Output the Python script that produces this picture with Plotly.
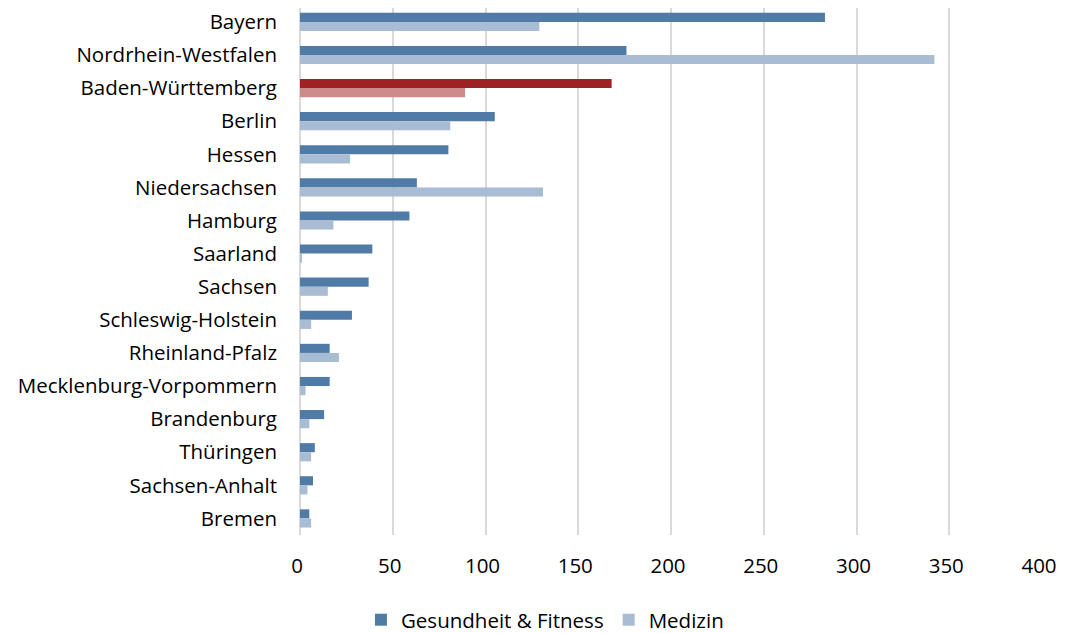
import plotly.graph_objects as go

# Apps je Bundesland
laender = ["Bayern", "Nordrhein-Westfalen", "Baden-Württemberg", "Berlin", "Hessen",
           "Niedersachsen", "Hamburg", "Saarland", "Sachsen", "Schleswig-Holstein",
           "Rheinland-Pfalz", "Mecklenburg-Vorpommern", "Brandenburg", "Thüringen",
           "Sachsen-Anhalt", "Bremen"]
gesundheit_fitness = [283, 176, 168, 105, 80, 63, 59, 39, 37, 28, 16, 16, 13, 8, 7, 5]
medizin = [129, 342, 89, 81, 27, 131, 18, 1, 15, 6, 21, 3, 5, 6, 4, 6]
x_ticks = [0, 50, 100, 150, 200, 250, 300, 350, 400]

highlight = "Baden-Württemberg"
col_gf = ["#9E2224" if l == highlight else "#4F7BA6" for l in laender]
col_med = ["#CE8B8B" if l == highlight else "#A8BCD3" for l in laender]

fig = go.Figure()
fig.add_trace(go.Bar(
    y=laender, x=gesundheit_fitness, orientation="h", name="Gesundheit & Fitness",
    marker=dict(color=col_gf, line=dict(width=0))
))
fig.add_trace(go.Bar(
    y=laender, x=medizin, orientation="h", name="Medizin",
    marker=dict(color=col_med, line=dict(width=0))
))

# page body adds 8px margin, figure sized so the plot area lines up with the window
fig.update_layout(
    width=1057, height=625,
    barmode="group", bargap=0.45, bargroupgap=0,
    plot_bgcolor="white", paper_bgcolor="white",
    font=dict(family="Open Sans", size=20.5, color="#000000"),
    margin=dict(l=292, r=23, t=0, b=98),
    showlegend=True,
    legend=dict(orientation="h", xref="container", x=0.508, xanchor="center",
                yref="container", y=0.021, yanchor="middle",
                font=dict(size=20.5), itemwidth=30, traceorder="normal"),
)
fig.update_xaxes(range=[0, 400], tickvals=x_ticks, showgrid=True,
                 gridcolor="#D9D9D9", gridwidth=2, zeroline=True,
                 zerolinecolor="#D9D9D9", zerolinewidth=2,
                 showline=False, ticks="", ticklabelstandoff=16,
                 ticklabeloverflow="allow", ticklabelshift=-3)
fig.update_yaxes(range=[15.5, -0.42], showgrid=False, showline=False,
                 ticks="", ticklabelstandoff=22)

fig.write_html("out.html")
